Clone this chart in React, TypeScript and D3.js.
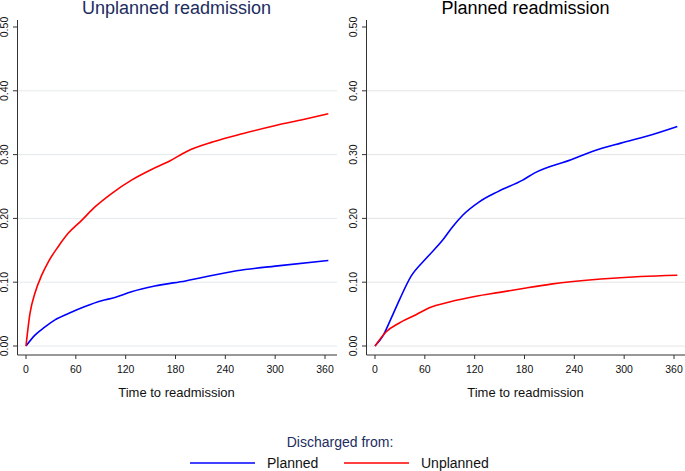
import React from 'react';
import * as d3 from 'd3';

// tick values
const xTicks = [0, 60, 120, 180, 240, 300, 360];
const yTicks = [0, 0.1, 0.2, 0.3, 0.4, 0.5];
const gridTicks = [0, 0.1, 0.2, 0.3, 0.4];

// left panel: unplanned readmission
const upUnplannedT = [0, 4.8, 10.8, 18.9, 26.9, 38.9, 51, 67, 83, 103, 127, 150, 173, 193.5, 225.5, 261.6, 301.8, 333.9, 364];
const upUnplannedV = [0, 0.051, 0.083, 0.111, 0.132, 0.156, 0.177, 0.197, 0.218, 0.239, 0.26, 0.276, 0.29, 0.305, 0.32, 0.333, 0.346, 0.355, 0.364];
const upPlannedT = [0, 10.8, 22.9, 34.9, 51, 71, 91, 107, 127, 155, 192, 253.6, 305.8, 364];
const upPlannedV = [0, 0.017, 0.03, 0.041, 0.051, 0.062, 0.071, 0.076, 0.085, 0.094, 0.102, 0.118, 0.126, 0.134];

// right panel: planned readmission
const plPlannedT = [0, 9.2, 19.3, 29.3, 43.3, 61.4, 81.5, 93.5, 105.6, 125.6, 148, 177.8, 191.8, 236, 264, 296, 328, 364];
const plPlannedV = [0, 0.015, 0.043, 0.072, 0.109, 0.137, 0.166, 0.187, 0.205, 0.226, 0.242, 0.26, 0.271, 0.292, 0.306, 0.318, 0.329, 0.344];
const plUnplannedT = [0, 13.2, 29.3, 49.4, 65.4, 89.5, 121.6, 150, 181.8, 211.9, 272, 320, 364];
const plUnplannedV = [0, 0.022, 0.036, 0.049, 0.06, 0.069, 0.078, 0.084, 0.091, 0.097, 0.105, 0.109, 0.111];

const BLUE = '#0000ff';
const RED = '#ff0000';
const NAVY = '#1c2d5e';
const FONT = 'Liberation Sans, Arial, sans-serif';

const zip = (t: number[], v: number[]) => t.map((d, i) => [d, v[i]] as [number, number]);

interface PanelProps {
  ox: number;
  title: string;
  titleColor: string;
  axisRight: number;
  grid: string;
  series: { pts: [number, number][]; color: string }[];
}

const Panel = ({ ox, title, titleColor, axisRight, grid, series }: PanelProps) => {
  const axisX = ox + 17.5;
  const axisY = 355;
  const x = d3.scaleLinear().domain([0, 360]).range([ox + 26, ox + 325]);
  const y = d3.scaleLinear().domain([0, 0.5]).range([346, 27]);
  const line = d3.line<[number, number]>()
    .x(d => x(d[0]))
    .y(d => y(d[1]))
    .curve(d3.curveMonotoneX);
  const cx = (x(0) + x(360)) / 2;

  return (
    <g>
      <text x={cx + 1} y={14} textAnchor="middle" fontSize={18} fill={titleColor} fontFamily={FONT}>
        {title}
      </text>
      {gridTicks.map(t => (
        <line key={'g' + t} x1={axisX} x2={axisRight} y1={y(t)} y2={y(t)} stroke={grid} strokeWidth={1} />
      ))}
      {/* y axis */}
      <line x1={axisX} x2={axisX} y1={20} y2={axisY} stroke="#333" strokeWidth={1} />
      {yTicks.map(t => (
        <g key={'y' + t}>
          <line x1={axisX - 4.5} x2={axisX} y1={y(t)} y2={y(t)} stroke="#333" strokeWidth={1} />
          <text
            transform={`translate(${axisX - 9.5},${y(t)}) rotate(-90)`}
            textAnchor="middle"
            fontSize={10.5}
            fontFamily={FONT}
            fill="#111"
          >
            {d3.format('.2f')(t)}
          </text>
        </g>
      ))}
      {/* x axis */}
      <line x1={axisX} x2={axisRight} y1={axisY} y2={axisY} stroke="#333" strokeWidth={1} />
      {xTicks.map(t => (
        <g key={'x' + t}>
          <line x1={x(t)} x2={x(t)} y1={axisY} y2={axisY + 4} stroke="#333" strokeWidth={1} />
          <text x={x(t)} y={373} textAnchor="middle" fontSize={10.5} fontFamily={FONT} fill="#111">
            {t}
          </text>
        </g>
      ))}
      <text x={cx + 1} y={397} textAnchor="middle" fontSize={13} fontFamily={FONT} fill="#111">
        Time to readmission
      </text>
      {series.map((s, i) => (
        <path key={i} d={line(s.pts) || ''} fill="none" stroke={s.color} strokeWidth={1.6} strokeLinejoin="round" />
      ))}
    </g>
  );
};

const App = () => {
  return (
    <svg width={685} height={471} style={{ position: 'absolute', left: 0, top: 0, background: '#fff' }}>
      <rect width={685} height={471} fill="#fff" />
      <Panel
        ox={0}
        title="Unplanned readmission"
        titleColor={NAVY}
        axisRight={337}
        grid="#e3eaec"
        series={[
          { pts: zip(upPlannedT, upPlannedV), color: BLUE },
          { pts: zip(upUnplannedT, upUnplannedV), color: RED },
        ]}
      />
      <Panel
        ox={349}
        title="Planned readmission"
        titleColor="#000"
        axisRight={685}
        grid="#e4e4e4"
        series={[
          { pts: zip(plPlannedT, plPlannedV), color: BLUE },
          { pts: zip(plUnplannedT, plUnplannedV), color: RED },
        ]}
      />
      {/* legend */}
      <text x={340} y={446.5} textAnchor="middle" fontSize={14} fontFamily={FONT} fill={NAVY}>
        Discharged from:
      </text>
      <line x1={190} x2={255} y1={463} y2={463} stroke={BLUE} strokeWidth={1.6} />
      <text x={267} y={467.5} fontSize={14} fontFamily={FONT} fill="#111">Planned</text>
      <line x1={344} x2={409} y1={463} y2={463} stroke={RED} strokeWidth={1.6} />
      <text x={421} y={467.5} fontSize={14} fontFamily={FONT} fill="#111">Unplanned</text>
    </svg>
  );
};

export default App;
